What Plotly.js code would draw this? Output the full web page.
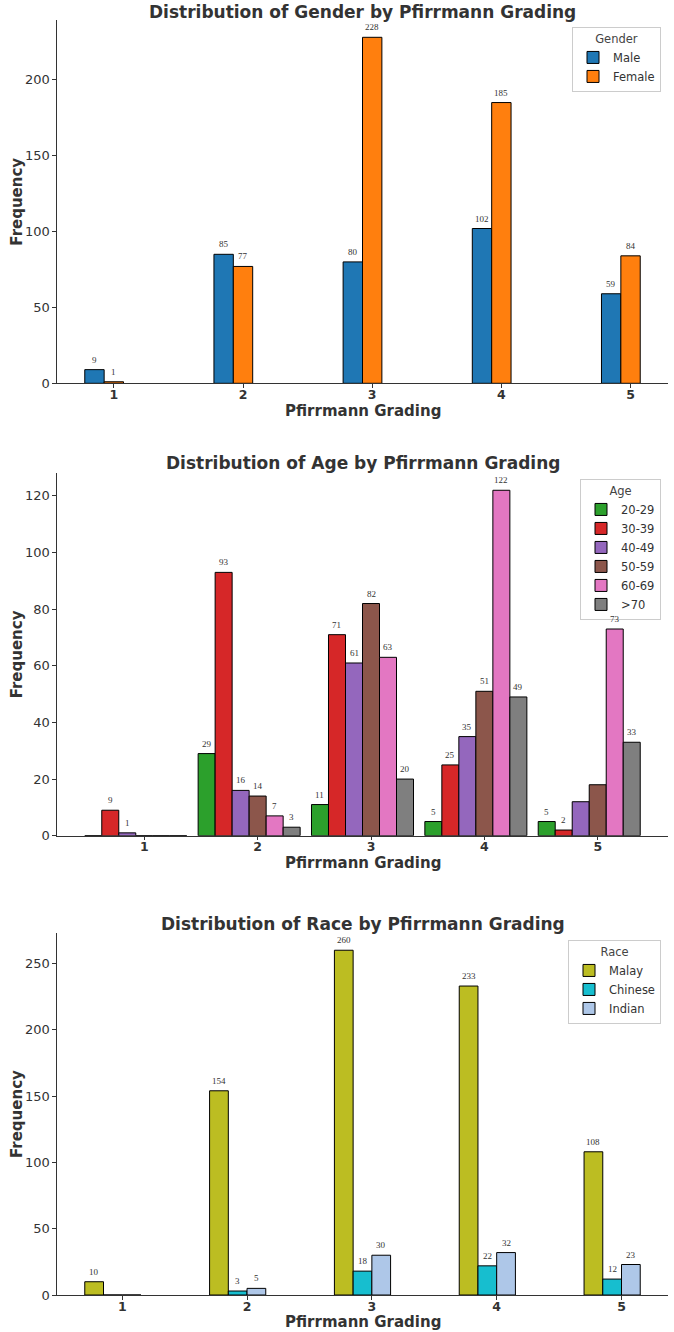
<!DOCTYPE html>
<html>
<head>
<meta charset="utf-8">
<script src="https://cdn.plot.ly/plotly-3.0.1.min.js"></script>
<style>html,body{margin:0;padding:0;background:#fff;}#chart{width:674px;height:1332px;}</style>
</head>
<body>
<div id="chart"></div>
<script>
// ---------------- data ----------------
const grades = [1, 2, 3, 4, 5];
const gradeLabels = ['1', '2', '3', '4', '5'];

const genderNames = ['Male', 'Female'];
const genderMale = [9, 85, 80, 102, 59];
const genderFemale = [1, 77, 228, 185, 84];

const ageNames = ['20-29', '30-39', '40-49', '50-59', '60-69', '>70'];
const age20to29 = [0, 29, 11, 5, 5];
const age30to39 = [9, 93, 71, 25, 2];
const age40to49 = [1, 16, 61, 35, 12];
const age50to59 = [0, 14, 82, 51, 18];
const age60to69 = [0, 7, 63, 122, 73];
const age70plus = [0, 3, 20, 49, 33];

const raceNames = ['Malay', 'Chinese', 'Indian'];
const raceMalay = [10, 154, 260, 233, 108];
const raceChinese = [0, 3, 18, 22, 12];
const raceIndian = [0, 5, 30, 32, 23];

// value labels not printed in the original (series name, grade)
const unlabeled = [['40-49', 5], ['50-59', 5]];

// ---------------- layout helpers ----------------
const W = 674, H = 1332;
const fy = py => 1 - py / H;
const fx = px => px / W;
const BAR_W = 0.15;
const TXT = '#333333';
const FONT = 'DejaVu Sans';

const panels = [
  { title: 'Distribution of Gender by Pfirrmann Grading', legendTitle: 'Gender',
    names: genderNames, series: [genderMale, genderFemale],
    colors: ['#1f77b4', '#ff7f0e'],
    top: 20, bottom: 383.3, ymax: 239.4, dtick: 50, xr: [0.56, 5.29],
    titleY: 0.5, xtitleY: 411, legendTop: 27 },
  { title: 'Distribution of Age by Pfirrmann Grading', legendTitle: 'Age',
    names: ageNames, series: [age20to29, age30to39, age40to49, age50to59, age60to69, age70plus],
    colors: ['#2ca02c', '#d62728', '#9467bd', '#8c564b', '#e377c2', '#7f7f7f'],
    top: 473, bottom: 835.7, ymax: 128.1, dtick: 20, xr: [0.23, 5.62],
    titleY: 451, xtitleY: 863.5, legendTop: 479 },
  { title: 'Distribution of Race by Pfirrmann Grading', legendTitle: 'Race',
    names: raceNames, series: [raceMalay, raceChinese, raceIndian],
    colors: ['#bcbd22', '#17becf', '#aec7e8'],
    top: 933, bottom: 1295, ymax: 273, dtick: 50, xr: [0.4775, 5.3725],
    titleY: 911.5, xtitleY: 1321.5, legendTop: 940 }
];

const traces = [];
const annotations = [];
const layout = {
  width: W, height: H,
  margin: { l: 0, r: 0, t: 0, b: 0 },
  paper_bgcolor: '#ffffff', plot_bgcolor: '#ffffff',
  barmode: 'overlay',
  showlegend: true,
  font: { family: FONT, color: TXT },
  annotations: annotations
};

const xDom = [fx(57), fx(668)];

panels.forEach((p, k) => {
  const sfx = k === 0 ? '' : String(k + 1);
  const xa = 'x' + sfx, ya = 'y' + sfx;
  const legId = 'legend' + sfx;
  const n = p.series.length;

  p.series.forEach((vals, i) => {
    const center = (i - n / 2) * BAR_W;
    traces.push({
      type: 'bar', name: p.names[i], x: grades, y: vals,
      xaxis: xa, yaxis: ya, legend: legId,
      width: BAR_W, offset: center - BAR_W / 2,
      marker: { color: p.colors[i], line: { color: '#000000', width: 1 } },
      hoverinfo: 'x+y+name'
    });
    vals.forEach((v, g) => {
      if (!v) return;
      if (unlabeled.some(u => u[0] === p.names[i] && u[1] === grades[g])) return;
      annotations.push({
        xref: xa, yref: ya, x: grades[g] + center, y: v,
        text: String(v), showarrow: false, yshift: 10,
        font: { family: 'Liberation Serif', size: 9, color: TXT }
      });
    });
  });

  layout['xaxis' + sfx] = {
    domain: xDom, anchor: ya, range: p.xr,
    tickmode: 'array', tickvals: grades, ticktext: gradeLabels,
    showline: true, linecolor: '#333333', linewidth: 1.25,
    ticks: 'outside', ticklen: 3.5, tickcolor: '#333333', tickwidth: 1,
    ticklabelstandoff: -4, layer: 'above traces',
    tickfont: { family: FONT, size: 12.5, color: TXT, weight: 'bold' },
    showgrid: false, zeroline: false, fixedrange: true
  };
  layout['yaxis' + sfx] = {
    domain: [fy(p.bottom), fy(p.top)], anchor: xa, range: [0, p.ymax],
    dtick: p.dtick, tick0: 0,
    showline: true, linecolor: '#333333', linewidth: 1.25,
    ticks: 'outside', ticklen: 3.5, tickcolor: '#333333', tickwidth: 1,
    layer: 'above traces',
    tickfont: { family: FONT, size: 13, color: TXT },
    showgrid: false, zeroline: false, fixedrange: true
  };
  layout[legId] = {
    x: fx(661), xanchor: 'right', y: fy(p.legendTop), yanchor: 'top',
    bgcolor: 'rgba(255,255,255,0.9)', bordercolor: '#cccccc', borderwidth: 1,
    font: { family: FONT, size: 11.5, color: TXT },
    title: { text: p.legendTitle, side: 'top center', font: { family: FONT, size: 11.5, color: '#444444' } },
    traceorder: 'normal', itemclick: false, itemdoubleclick: false
  };

  // panel title
  annotations.push({
    xref: 'paper', yref: 'paper', x: (xDom[0] + xDom[1]) / 2, y: fy(p.titleY),
    xanchor: 'center', yanchor: 'top', showarrow: false,
    text: p.title, font: { family: FONT, size: 17, color: TXT, weight: 'bold' }
  });
  // x axis title
  annotations.push({
    xref: 'paper', yref: 'paper', x: (xDom[0] + xDom[1]) / 2, y: fy(p.xtitleY),
    xanchor: 'center', yanchor: 'middle', showarrow: false,
    text: 'Pfirrmann Grading', font: { family: FONT, size: 15, color: TXT, weight: 'bold' }
  });
  // y axis title
  annotations.push({
    xref: 'paper', yref: 'paper', x: fx(17), y: fy((p.top + p.bottom) / 2),
    xanchor: 'center', yanchor: 'middle', showarrow: false, textangle: -90,
    text: 'Frequency', font: { family: FONT, size: 15, color: TXT, weight: 'bold' }
  });
});

Plotly.newPlot('chart', traces, layout, { displayModeBar: false, staticPlot: false });
</script>
</body>
</html>
